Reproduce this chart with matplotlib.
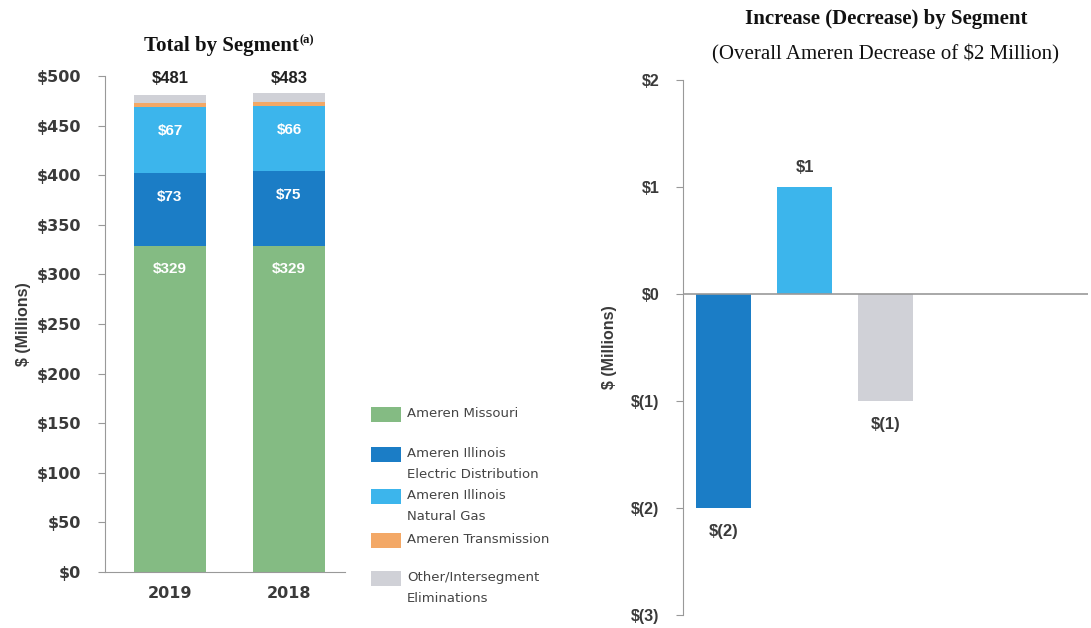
import matplotlib.pyplot as plt
from matplotlib.patches import Rectangle

# data
years = ['2019', '2018']
missouri = [329, 329]
il_elec = [73, 75]
il_gas = [67, 66]
transmission = [4, 4]
other = [8, 9]
totals = [481, 483]

seg_change = [-2, 1, -1]
seg_labels = ['$(2)', '$1', '$(1)']

c_green = '#84bb83'
c_dblue = '#1b7dc6'
c_lblue = '#3cb5ec'
c_orange = '#f3a866'
c_gray = '#d0d1d7'
txt = '#3a3a3a'

plt.rcParams['font.family'] = ['Liberation Sans', 'DejaVu Sans']

fig = plt.figure(figsize=(10.91, 6.28), dpi=100)

# ---- left: stacked bars
ax = fig.add_axes([105/1091, 1-572/628, 240/1091, 496/628])
x = [0, 1]
w = 0.6
series = [missouri, il_elec, il_gas, transmission, other]
colors = [c_green, c_dblue, c_lblue, c_orange, c_gray]
bottom = [0, 0]
for vals, col in zip(series, colors):
    ax.bar(x, vals, w, bottom=bottom, color=col, edgecolor='none')
    bottom = [b + v for b, v in zip(bottom, vals)]

# white labels inside the segments
for i in range(2):
    b = 0
    for vals in [missouri, il_elec, il_gas]:
        b += vals[i]
        ax.text(x[i], b - 24, '$%d' % vals[i], ha='center', va='center',
                color='white', fontsize=11, fontweight='bold')
    ax.text(x[i], 497, '$%d' % totals[i], ha='center', va='center',
            color='#222222', fontsize=12, fontweight='bold')

ax.set_xlim(-65/119, 175/119)
ax.set_ylim(0, 500)
ax.set_yticks(range(0, 501, 50))
ax.set_yticklabels(['$%d' % v for v in range(0, 501, 50)])
ax.set_xticks(x)
ax.set_xticklabels(years)
ax.tick_params(axis='y', length=5, color='#999999', labelcolor=txt, pad=12)
ax.tick_params(axis='x', length=0, labelcolor=txt, pad=10)
for lab in ax.get_yticklabels() + ax.get_xticklabels():
    lab.set_fontweight('bold')
    lab.set_family('DejaVu Sans')
    lab.set_fontsize(11.5)
for s in ['top', 'right']:
    ax.spines[s].set_visible(False)
ax.spines['left'].set_color('#999999')
ax.spines['bottom'].set_color('#999999')
ax.set_ylabel('$ (Millions)', fontsize=11.5, fontweight='bold', color=txt, labelpad=4)

fig.text(221/1091, 1-46/628, 'Total by Segment', ha='center', va='center',
         fontsize=15, fontweight='bold', family='Liberation Serif', color='#111111')
fig.text(300/1091, 1-40/628, '(a)', ha='left', va='center',
         fontsize=9, fontweight='bold', family='Liberation Serif', color='#111111')

# legend drawn manually
leg = [(c_green, 'Ameren Missouri', 415),
       (c_dblue, 'Ameren Illinois\nElectric Distribution', 455),
       (c_lblue, 'Ameren Illinois\nNatural Gas', 497),
       (c_orange, 'Ameren Transmission', 541),
       (c_gray, 'Other/Intersegment\nEliminations', 579)]
for col, name, ypx in leg:
    fig.patches.append(Rectangle((371/1091, 1-(ypx+7)/628), 30/1091, 15/628,
                                 transform=fig.transFigure, color=col, lw=0))
    fig.text(407/1091, 1-(ypx-8)/628, name, ha='left', va='top', fontsize=9.5,
             family='DejaVu Sans', color='#444444', linespacing=1.85)

# ---- right: change bars
ax2 = fig.add_axes([683/1091, 1-615/628, 405/1091, 535/628])
xs = [0.5, 1.5, 2.5]
ax2.bar(xs, seg_change, 0.68, color=[c_dblue, c_lblue, c_gray], edgecolor='none')
for xi, v, lab in zip(xs, seg_change, seg_labels):
    if v > 0:
        ax2.text(xi, v + 0.18, lab, ha='center', va='center', fontsize=12,
                 fontweight='bold', color=txt)
    else:
        ax2.text(xi, v - 0.22, lab, ha='center', va='center', fontsize=12,
                 fontweight='bold', color=txt)
ax2.axhline(0, color='#999999', lw=1.2)
ax2.set_xlim(0, 5)
ax2.set_ylim(-3, 2)
ax2.set_yticks([-3, -2, -1, 0, 1, 2])
ax2.set_yticklabels(['$(3)', '$(2)', '$(1)', '$0', '$1', '$2'])
ax2.set_xticks([])
ax2.tick_params(axis='y', length=5, color='#999999', labelsize=11.5, labelcolor=txt, pad=12)
for lab in ax2.get_yticklabels():
    lab.set_fontweight('bold')
for s in ['top', 'right', 'bottom']:
    ax2.spines[s].set_visible(False)
ax2.spines['left'].set_color('#999999')
ax2.set_ylabel('$ (Millions)', fontsize=11.5, fontweight='bold', color=txt, labelpad=10)

fig.text(886/1091, 1-19/628, 'Increase (Decrease) by Segment', ha='center', va='center',
         fontsize=15, fontweight='bold', family='Liberation Serif', color='#111111')
fig.text(885/1091, 1-54/628, '(Overall Ameren Decrease of $2 Million)', ha='center',
         va='center', fontsize=15, family='Liberation Serif', color='#111111')

fig.savefig('out.png', dpi=100)
